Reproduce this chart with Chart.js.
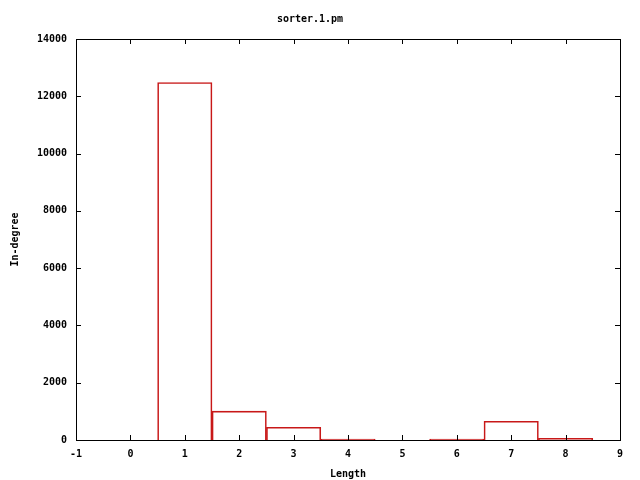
<!DOCTYPE html>
<html>
<head>
<meta charset="utf-8">
<script src="https://cdn.jsdelivr.net/npm/chart.js@4"></script>
<style>
  html, body { margin: 0; padding: 0; background: #fff; }
  canvas { display: block; }
</style>
</head>
<body>
<canvas id="grafico" width="640" height="480"></canvas>
<script>
  // Dados
  const lengths = [1, 2, 3, 4, 5, 6, 7, 8];
  const inDegree = [12480, 1010, 445, 35, 0, 35, 655, 60];
  const xTicks = [-1, 0, 1, 2, 3, 4, 5, 6, 7, 8, 9];
  const yTicks = [0, 2000, 4000, 6000, 8000, 10000, 12000, 14000];

  const fonte = { family: "'DejaVu Sans Mono', monospace", size: 10, weight: 'bold' };

  // Moldura + marcas internas (estilo gnuplot)
  const molduraPlugin = {
    id: 'moldura',
    afterDatasetsDraw(chart) {
      const { ctx, chartArea: a, scales } = chart;
      const tam = 5;
      ctx.save();
      ctx.strokeStyle = '#000';
      ctx.lineWidth = 1;
      ctx.beginPath();
      xTicks.forEach(v => {
        const px = Math.round(scales.x.getPixelForValue(v)) + 0.5;
        ctx.moveTo(px, a.bottom); ctx.lineTo(px, a.bottom - tam);
        ctx.moveTo(px, a.top); ctx.lineTo(px, a.top + tam);
      });
      yTicks.forEach(v => {
        const py = Math.round(scales.y.getPixelForValue(v)) + 0.5;
        ctx.moveTo(a.left, py); ctx.lineTo(a.left + tam, py);
        ctx.moveTo(a.right, py); ctx.lineTo(a.right - tam, py);
      });
      ctx.stroke();
      ctx.strokeRect(Math.round(a.left) + 0.5, Math.round(a.top) + 0.5,
        Math.round(a.right - a.left), Math.round(a.bottom - a.top));
      ctx.restore();
    }
  };

  new Chart(document.getElementById('grafico'), {
    type: 'bar',
    data: {
      datasets: [{
        label: 'In-degree',
        data: lengths.map((x, i) => ({ x: x, y: inDegree[i] })),
        backgroundColor: 'rgba(255,255,255,0)',
        borderColor: '#c81818',
        borderWidth: 1,
        barPercentage: 1,
        categoryPercentage: 1
      }]
    },
    options: {
      responsive: false,
      animation: false,
      layout: { padding: { left: 0, right: 20, top: 0, bottom: 0 } },
      plugins: {
        legend: { display: false },
        tooltip: { enabled: false },
        title: {
          display: true,
          text: 'sorter.1.pm',
          color: '#000',
          font: fonte,
          padding: { top: 13, bottom: 14 }
        }
      },
      scales: {
        x: {
          type: 'linear',
          offset: false,
          min: -1,
          max: 9,
          afterBuildTicks: s => { s.ticks = xTicks.map(v => ({ value: v })); },
          afterFit: s => { s.height = 40; },
          grid: { display: false, drawTicks: false },
          border: { display: false },
          ticks: { color: '#000', font: fonte, padding: 8, maxRotation: 0, callback: v => String(v) },
          title: { display: true, text: 'Length', color: '#000', font: fonte, padding: 0 }
        },
        y: {
          min: 0,
          max: 14000,
          afterBuildTicks: s => { s.ticks = yTicks.map(v => ({ value: v })); },
          afterFit: s => { s.width = 76; },
          grid: { display: false, drawTicks: false },
          border: { display: false },
          ticks: { color: '#000', font: fonte, padding: 9, callback: v => String(v) },
          title: { display: true, text: 'In-degree', color: '#000', font: fonte, padding: 9 }
        }
      }
    },
    plugins: [molduraPlugin]
  });
</script>
</body>
</html>
